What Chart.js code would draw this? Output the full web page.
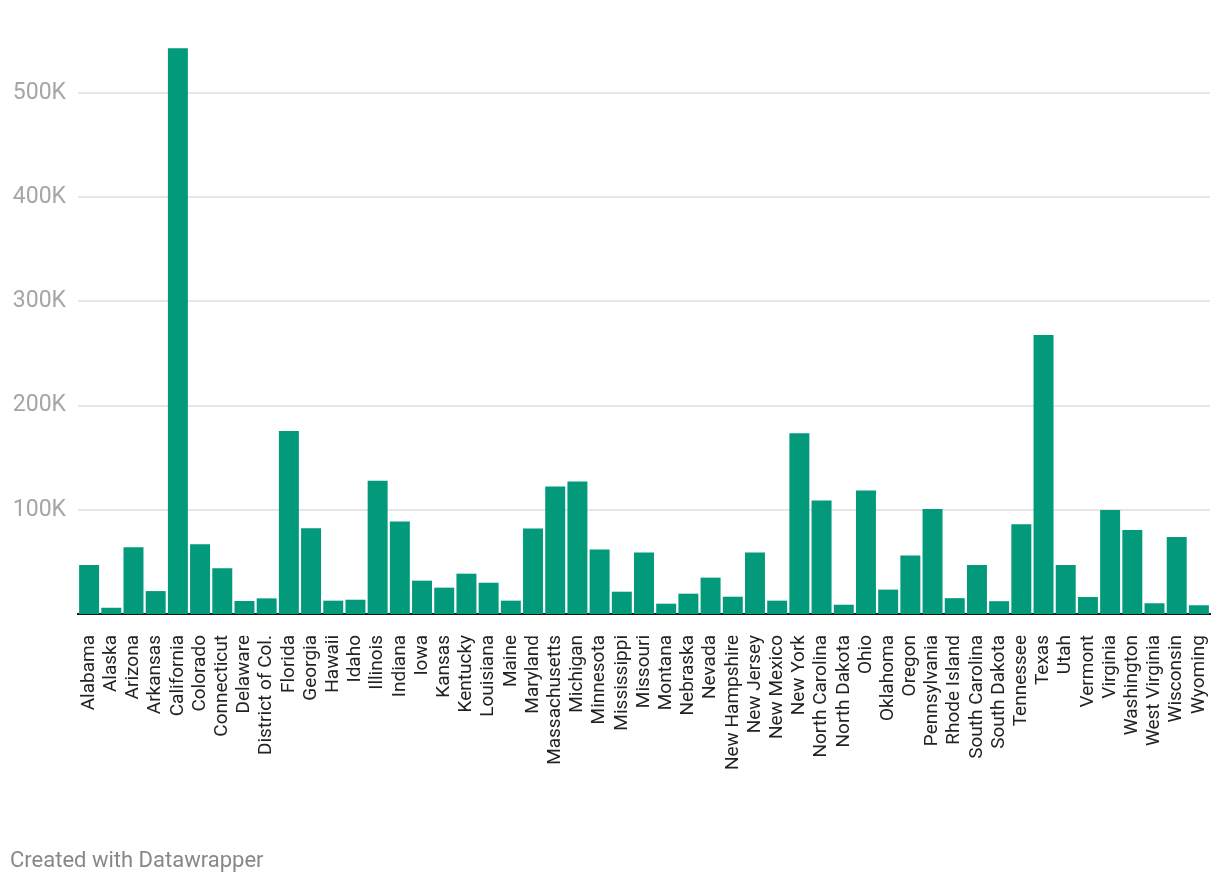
<!DOCTYPE html>
<html>
<head>
<meta charset="utf-8">
<script src="https://cdn.jsdelivr.net/npm/chart.js@4"></script>
<style>
  html, body { margin: 0; padding: 0; background: #fff; }
  #wrap { position: relative; width: 1220px; height: 888px; }
  #footer {
    position: absolute; left: 10px; top: 847px;
    font-family: Roboto, sans-serif; font-size: 22px; color: #888;
  }
</style>
</head>
<body>
<div id="wrap">
  <canvas id="chart" width="1220" height="888"></canvas>
  <div id="footer">Created with Datawrapper</div>
</div>
<script>
const states = [
    "Alabama", "Alaska", "Arizona", "Arkansas", "California", "Colorado", "Connecticut",
    "Delaware", "District of Col.", "Florida", "Georgia", "Hawaii", "Idaho", "Illinois",
    "Indiana", "Iowa", "Kansas", "Kentucky", "Louisiana", "Maine", "Maryland",
    "Massachusetts", "Michigan", "Minnesota", "Mississippi", "Missouri", "Montana",
    "Nebraska", "Nevada", "New Hampshire", "New Jersey", "New Mexico", "New York",
    "North Carolina", "North Dakota", "Ohio", "Oklahoma", "Oregon", "Pennsylvania",
    "Rhode Island", "South Carolina", "South Dakota", "Tennessee", "Texas", "Utah",
    "Vermont", "Virginia", "Washington", "West Virginia", "Wisconsin", "Wyoming"
];

const values = [
    47000, 6000, 64000, 22000, 543000, 67000, 44000,
    12500, 15000, 175700, 82300, 12800, 13700, 128000,
    88800, 32000, 25300, 38700, 30000, 12800, 82000,
    122400, 127200, 62000, 21400, 59000, 9900,
    19500, 34900, 16600, 59000, 12800, 173400,
    109000, 8900, 118600, 23400, 56200, 100700,
    15200, 47000, 12300, 86200, 267800, 47000,
    16300, 99800, 80600, 10300, 73800, 8400
];

const yTicks = [100000, 200000, 300000, 400000, 500000];

const chartElement = document.getElementById("chart").getContext("2d");

const chartConfig = {
    type: "bar",
    data: {
        labels: states,
        datasets: [{
            data: values,
            backgroundColor: "#029a7b",
            borderWidth: 0,
            barPercentage: 0.9,
            categoryPercentage: 1
        }]
    },
    options: {
        responsive: false,
        animation: false,
        layout: { padding: { top: 41, right: 10, left: 0, bottom: 0 } },
        plugins: { legend: { display: false }, tooltip: { enabled: false } },
        scales: {
            x: {
                afterFit: scale => {
                    scale.height = 274;
                    scale.paddingLeft = 0;
                    scale.paddingRight = 0;
                },
                grid: { display: false, drawTicks: false },
                border: { display: true, color: "#1a1a1a", width: 2 },
                ticks: {
                    autoSkip: false,
                    minRotation: 90,
                    maxRotation: 90,
                    padding: 21,
                    color: "#222",
                    font: { family: "Roboto", size: 19 }
                }
            },
            y: {
                min: 0,
                max: 550000,
                afterFit: scale => { scale.width = 78; },
                afterBuildTicks: scale => {
                    scale.ticks = yTicks.map(v => ({ value: v }));
                },
                grid: { color: "#e6e6e6", lineWidth: 2, drawTicks: false },
                border: { display: false },
                ticks: {
                    padding: 12,
                    color: "#a5a5a5",
                    font: { family: "Roboto", size: 23 },
                    callback: v => (v / 1000) + "K"
                }
            }
        }
    }
};

const chart = new Chart(chartElement, chartConfig);
</script>
</body>
</html>
